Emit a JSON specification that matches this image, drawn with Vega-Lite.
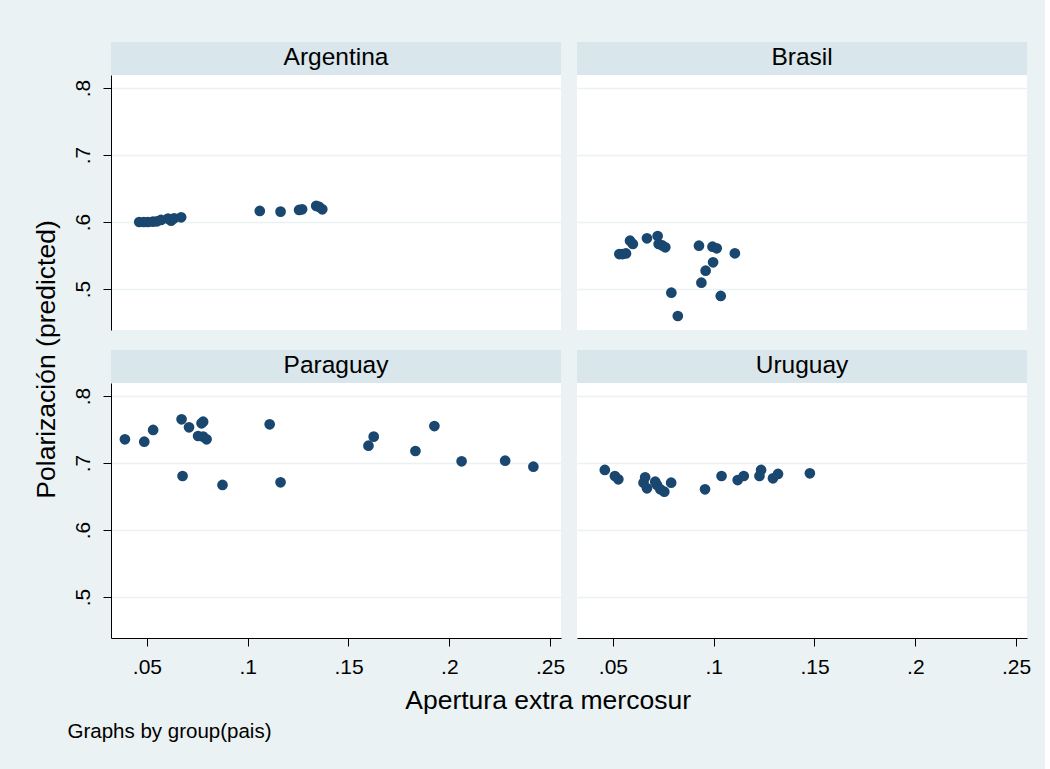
{
  "$schema": "https://vega.github.io/schema/vega-lite/v6.json",
  "background": "#EAF2F3",
  "padding": {"left": 33, "top": 41, "right": 14, "bottom": 28},
  "data": {
    "values": [
      {"pais": "Argentina", "apertura": 0.0462, "polarizacion": 0.600},
      {"pais": "Argentina", "apertura": 0.0485, "polarizacion": 0.600},
      {"pais": "Argentina", "apertura": 0.0505, "polarizacion": 0.600},
      {"pais": "Argentina", "apertura": 0.0530, "polarizacion": 0.6005},
      {"pais": "Argentina", "apertura": 0.0550, "polarizacion": 0.601},
      {"pais": "Argentina", "apertura": 0.0570, "polarizacion": 0.603},
      {"pais": "Argentina", "apertura": 0.0605, "polarizacion": 0.605},
      {"pais": "Argentina", "apertura": 0.0620, "polarizacion": 0.602},
      {"pais": "Argentina", "apertura": 0.0635, "polarizacion": 0.6055},
      {"pais": "Argentina", "apertura": 0.0670, "polarizacion": 0.607},
      {"pais": "Argentina", "apertura": 0.1060, "polarizacion": 0.6165},
      {"pais": "Argentina", "apertura": 0.1163, "polarizacion": 0.6155},
      {"pais": "Argentina", "apertura": 0.1255, "polarizacion": 0.618},
      {"pais": "Argentina", "apertura": 0.1270, "polarizacion": 0.619},
      {"pais": "Argentina", "apertura": 0.1340, "polarizacion": 0.624},
      {"pais": "Argentina", "apertura": 0.1355, "polarizacion": 0.6225},
      {"pais": "Argentina", "apertura": 0.1370, "polarizacion": 0.619},
      {"pais": "Brasil", "apertura": 0.0532, "polarizacion": 0.5522},
      {"pais": "Brasil", "apertura": 0.0548, "polarizacion": 0.5522},
      {"pais": "Brasil", "apertura": 0.0565, "polarizacion": 0.5530},
      {"pais": "Brasil", "apertura": 0.0585, "polarizacion": 0.5721},
      {"pais": "Brasil", "apertura": 0.0599, "polarizacion": 0.5672},
      {"pais": "Brasil", "apertura": 0.0669, "polarizacion": 0.5757},
      {"pais": "Brasil", "apertura": 0.0722, "polarizacion": 0.5791},
      {"pais": "Brasil", "apertura": 0.0727, "polarizacion": 0.5672},
      {"pais": "Brasil", "apertura": 0.0745, "polarizacion": 0.5650},
      {"pais": "Brasil", "apertura": 0.0760, "polarizacion": 0.5622},
      {"pais": "Brasil", "apertura": 0.0927, "polarizacion": 0.5646},
      {"pais": "Brasil", "apertura": 0.0994, "polarizacion": 0.5631},
      {"pais": "Brasil", "apertura": 0.1015, "polarizacion": 0.5607},
      {"pais": "Brasil", "apertura": 0.1105, "polarizacion": 0.5533},
      {"pais": "Brasil", "apertura": 0.0997, "polarizacion": 0.5399},
      {"pais": "Brasil", "apertura": 0.0960, "polarizacion": 0.5273},
      {"pais": "Brasil", "apertura": 0.0939, "polarizacion": 0.5094},
      {"pais": "Brasil", "apertura": 0.0790, "polarizacion": 0.4945},
      {"pais": "Brasil", "apertura": 0.1035, "polarizacion": 0.4896},
      {"pais": "Brasil", "apertura": 0.0822, "polarizacion": 0.4597},
      {"pais": "Paraguay", "apertura": 0.0391, "polarizacion": 0.7354},
      {"pais": "Paraguay", "apertura": 0.0487, "polarizacion": 0.7318},
      {"pais": "Paraguay", "apertura": 0.0531, "polarizacion": 0.7493},
      {"pais": "Paraguay", "apertura": 0.0672, "polarizacion": 0.7652},
      {"pais": "Paraguay", "apertura": 0.0709, "polarizacion": 0.7533},
      {"pais": "Paraguay", "apertura": 0.0771, "polarizacion": 0.7593},
      {"pais": "Paraguay", "apertura": 0.0779, "polarizacion": 0.7616},
      {"pais": "Paraguay", "apertura": 0.0754, "polarizacion": 0.7403},
      {"pais": "Paraguay", "apertura": 0.0779, "polarizacion": 0.7393},
      {"pais": "Paraguay", "apertura": 0.0796, "polarizacion": 0.7354},
      {"pais": "Paraguay", "apertura": 0.0677, "polarizacion": 0.6806},
      {"pais": "Paraguay", "apertura": 0.0875, "polarizacion": 0.6672},
      {"pais": "Paraguay", "apertura": 0.1109, "polarizacion": 0.7578},
      {"pais": "Paraguay", "apertura": 0.1163, "polarizacion": 0.6712},
      {"pais": "Paraguay", "apertura": 0.1625, "polarizacion": 0.7393},
      {"pais": "Paraguay", "apertura": 0.1599, "polarizacion": 0.7258},
      {"pais": "Paraguay", "apertura": 0.1926, "polarizacion": 0.7552},
      {"pais": "Paraguay", "apertura": 0.1832, "polarizacion": 0.7179},
      {"pais": "Paraguay", "apertura": 0.2061, "polarizacion": 0.7025},
      {"pais": "Paraguay", "apertura": 0.2277, "polarizacion": 0.7034},
      {"pais": "Paraguay", "apertura": 0.2417, "polarizacion": 0.6945},
      {"pais": "Uruguay", "apertura": 0.0460, "polarizacion": 0.6896},
      {"pais": "Uruguay", "apertura": 0.0510, "polarizacion": 0.6806},
      {"pais": "Uruguay", "apertura": 0.0527, "polarizacion": 0.6757},
      {"pais": "Uruguay", "apertura": 0.0660, "polarizacion": 0.6787},
      {"pais": "Uruguay", "apertura": 0.0652, "polarizacion": 0.6706},
      {"pais": "Uruguay", "apertura": 0.0669, "polarizacion": 0.6622},
      {"pais": "Uruguay", "apertura": 0.0710, "polarizacion": 0.6721},
      {"pais": "Uruguay", "apertura": 0.0719, "polarizacion": 0.6672},
      {"pais": "Uruguay", "apertura": 0.0735, "polarizacion": 0.6607},
      {"pais": "Uruguay", "apertura": 0.0755, "polarizacion": 0.6572},
      {"pais": "Uruguay", "apertura": 0.0789, "polarizacion": 0.6706},
      {"pais": "Uruguay", "apertura": 0.0957, "polarizacion": 0.6607},
      {"pais": "Uruguay", "apertura": 0.1039, "polarizacion": 0.6806},
      {"pais": "Uruguay", "apertura": 0.1119, "polarizacion": 0.6746},
      {"pais": "Uruguay", "apertura": 0.1149, "polarizacion": 0.6806},
      {"pais": "Uruguay", "apertura": 0.1227, "polarizacion": 0.6806},
      {"pais": "Uruguay", "apertura": 0.1235, "polarizacion": 0.6896},
      {"pais": "Uruguay", "apertura": 0.1294, "polarizacion": 0.6772},
      {"pais": "Uruguay", "apertura": 0.1319, "polarizacion": 0.6836},
      {"pais": "Uruguay", "apertura": 0.1477, "polarizacion": 0.6846}
    ]
  },
  "config": {
    "font": "Liberation Sans",
    "view": {"stroke": null, "fill": "#FFFFFF"},
    "axis": {
      "domainColor": "#000000",
      "domainWidth": 1,
      "tickColor": "#000000",
      "tickWidth": 1,
      "tickSize": 8,
      "labelPadding": 10,
      "labelFontSize": 21,
      "labelColor": "#000000",
      "labelFont": "Liberation Sans",
      "gridColor": "#EAF2F3",
      "gridWidth": 1.5,
      "gridOpacity": 1
    },
    "title": {"font": "Liberation Sans", "fontWeight": "normal", "color": "#000000"}
  },
  "title": {"text": "Graphs by group(pais)", "orient": "bottom", "anchor": "start", "frame": "bounds", "fontSize": 20.5, "dx": 34, "offset": 7},
  "vconcat": [
    {
      "title": {"text": "Apertura extra mercosur", "orient": "bottom", "anchor": "middle", "frame": "bounds", "fontSize": 26.5, "offset": 11, "dx": 16},
      "vconcat": [
        {
          "title": {"text": "Polarización (predicted)", "orient": "left", "anchor": "middle", "frame": "bounds", "fontSize": 26.5, "offset": 12},
          "columns": 2,
          "spacing": {"row": 19, "column": 12},
          "concat": [
            {
              "width": 450, "height": 288,
              "transform": [{"filter": "datum.pais === 'Argentina'"}],
              "layer": [
                {
                  "transform": [{"aggregate": [{"op": "count", "as": "n"}], "groupby": ["pais"]}],
                  "mark": {"type": "rect", "color": "#D9E6EB", "opacity": 1},
                  "encoding": {"y": {"datum": 0.8194, "type": "quantitative"}, "y2": {"datum": 0.8688}}
                },
                {
                  "transform": [{"aggregate": [{"op": "count", "as": "n"}], "groupby": ["pais"]}],
                  "mark": {"type": "text", "fontSize": 24.5, "color": "#000000", "font": "Liberation Sans", "baseline": "middle"},
                  "encoding": {"y": {"datum": 0.8441, "type": "quantitative"}, "text": {"field": "pais", "type": "nominal"}}
                },
                {
                  "mark": {"type": "circle", "size": 115, "color": "#1A476F", "opacity": 1},
                  "encoding": {
                    "x": {"field": "apertura", "type": "quantitative", "scale": {"domain": [0.0322, 0.2554], "nice": false, "zero": false}, "axis": null},
                    "y": {"field": "polarizacion", "type": "quantitative", "scale": {"domain": [0.4388, 0.8194], "range": [288, 33], "nice": false, "zero": false},
                      "axis": {"values": [0.5, 0.6, 0.7, 0.8], "labelExpr": "substring(format(datum.value, '.1f'), 1)", "labelAngle": -90, "labelAlign": "center", "labelBaseline": "bottom", "grid": true, "title": null}}
                  }
                }
              ]
            },
            {
              "width": 450, "height": 288,
              "transform": [{"filter": "datum.pais === 'Brasil'"}],
              "layer": [
                {
                  "transform": [{"aggregate": [{"op": "count", "as": "n"}], "groupby": ["pais"]}],
                  "mark": {"type": "rect", "color": "#D9E6EB", "opacity": 1},
                  "encoding": {"y": {"datum": 0.8194, "type": "quantitative"}, "y2": {"datum": 0.8688}}
                },
                {
                  "transform": [{"aggregate": [{"op": "count", "as": "n"}], "groupby": ["pais"]}],
                  "mark": {"type": "text", "fontSize": 24.5, "color": "#000000", "font": "Liberation Sans", "baseline": "middle"},
                  "encoding": {"y": {"datum": 0.8441, "type": "quantitative"}, "text": {"field": "pais", "type": "nominal"}}
                },
                {
                  "mark": {"type": "circle", "size": 115, "color": "#1A476F", "opacity": 1},
                  "encoding": {
                    "x": {"field": "apertura", "type": "quantitative", "scale": {"domain": [0.0322, 0.2554], "nice": false, "zero": false}, "axis": null},
                    "y": {"field": "polarizacion", "type": "quantitative", "scale": {"domain": [0.4388, 0.8194], "range": [288, 33], "nice": false, "zero": false},
                      "axis": {"values": [0.5, 0.6, 0.7, 0.8], "labels": false, "ticks": false, "domain": false, "grid": true, "title": null}}
                  }
                }
              ]
            },
            {
              "width": 450, "height": 288,
              "transform": [{"filter": "datum.pais === 'Paraguay'"}],
              "layer": [
                {
                  "transform": [{"aggregate": [{"op": "count", "as": "n"}], "groupby": ["pais"]}],
                  "mark": {"type": "rect", "color": "#D9E6EB", "opacity": 1},
                  "encoding": {"y": {"datum": 0.8194, "type": "quantitative"}, "y2": {"datum": 0.8688}}
                },
                {
                  "transform": [{"aggregate": [{"op": "count", "as": "n"}], "groupby": ["pais"]}],
                  "mark": {"type": "text", "fontSize": 24.5, "color": "#000000", "font": "Liberation Sans", "baseline": "middle"},
                  "encoding": {"y": {"datum": 0.8441, "type": "quantitative"}, "text": {"field": "pais", "type": "nominal"}}
                },
                {
                  "mark": {"type": "circle", "size": 115, "color": "#1A476F", "opacity": 1},
                  "encoding": {
                    "x": {"field": "apertura", "type": "quantitative", "scale": {"domain": [0.0322, 0.2554], "nice": false, "zero": false},
                      "axis": {"values": [0.05, 0.1, 0.15, 0.2, 0.25], "labelExpr": "substring(format(datum.value, '.2~f'), 1)", "grid": false, "title": null, "labelFlush": false}},
                    "y": {"field": "polarizacion", "type": "quantitative", "scale": {"domain": [0.4388, 0.8194], "range": [288, 33], "nice": false, "zero": false},
                      "axis": {"values": [0.5, 0.6, 0.7, 0.8], "labelExpr": "substring(format(datum.value, '.1f'), 1)", "labelAngle": -90, "labelAlign": "center", "labelBaseline": "bottom", "grid": true, "title": null}}
                  }
                }
              ]
            },
            {
              "width": 450, "height": 288,
              "transform": [{"filter": "datum.pais === 'Uruguay'"}],
              "layer": [
                {
                  "transform": [{"aggregate": [{"op": "count", "as": "n"}], "groupby": ["pais"]}],
                  "mark": {"type": "rect", "color": "#D9E6EB", "opacity": 1},
                  "encoding": {"y": {"datum": 0.8194, "type": "quantitative"}, "y2": {"datum": 0.8688}}
                },
                {
                  "transform": [{"aggregate": [{"op": "count", "as": "n"}], "groupby": ["pais"]}],
                  "mark": {"type": "text", "fontSize": 24.5, "color": "#000000", "font": "Liberation Sans", "baseline": "middle"},
                  "encoding": {"y": {"datum": 0.8441, "type": "quantitative"}, "text": {"field": "pais", "type": "nominal"}}
                },
                {
                  "mark": {"type": "circle", "size": 115, "color": "#1A476F", "opacity": 1},
                  "encoding": {
                    "x": {"field": "apertura", "type": "quantitative", "scale": {"domain": [0.0322, 0.2554], "nice": false, "zero": false},
                      "axis": {"values": [0.05, 0.1, 0.15, 0.2, 0.25], "labelExpr": "substring(format(datum.value, '.2~f'), 1)", "grid": false, "title": null, "labelFlush": false}},
                    "y": {"field": "polarizacion", "type": "quantitative", "scale": {"domain": [0.4388, 0.8194], "range": [288, 33], "nice": false, "zero": false},
                      "axis": {"values": [0.5, 0.6, 0.7, 0.8], "labels": false, "ticks": false, "domain": false, "grid": true, "title": null}}
                  }
                }
              ]
            }
          ]
        }
      ]
    }
  ]
}
